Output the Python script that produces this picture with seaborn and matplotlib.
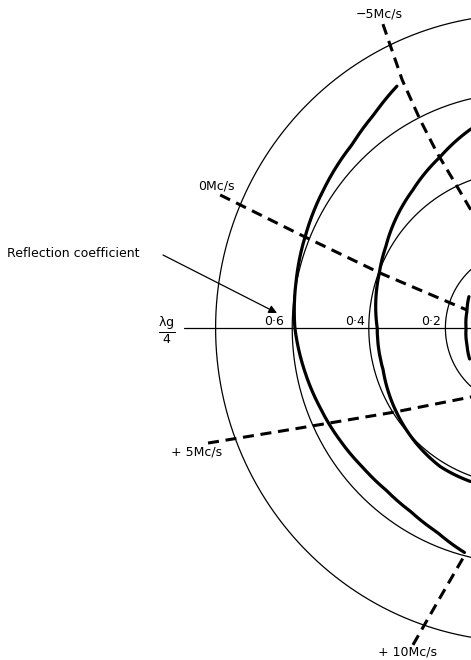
import numpy as np
import matplotlib
matplotlib.use("Agg")
import matplotlib.pyplot as plt
import seaborn as sns

# reflection coefficient rings
ring_radii = [0.2, 0.4, 0.6, 0.8]
ring_labels = ["0·2", "0·4", "0·6"]

# measured loci (|reflection coefficient|, phase in degrees)
outer_r = [0.698, 0.668, 0.645, 0.627, 0.613, 0.602, 0.593, 0.578, 0.565,
           0.555, 0.547, 0.545, 0.551, 0.566, 0.592]
outer_deg = [117.9, 125.3, 133.4, 145.6, 157.0, 168.3, 180.0, 191.0, 201.0,
             211.0, 220.5, 229.5, 238.1, 246.9, 255.3]

mid_r = [0.525, 0.486, 0.453, 0.412, 0.398, 0.378, 0.378, 0.391, 0.404, 0.413, 0.414]
mid_deg = [104.7, 116.1, 129.0, 149.6, 159.4, 180.0, 196.4, 212.2, 227.4, 238.9, 251.0]

inner_r = [0.160, 0.150, 0.146, 0.150, 0.158]
inner_deg = [150.0, 163.0, 180.0, 197.0, 210.0]

# constant-frequency lines
freq_labels = ["\u22125Mc/s", "0Mc/s", "+ 5Mc/s", "+ 10Mc/s"]
freq_r = [
    [0.856, 0.706, 0.594, 0.4985, 0.409, 0.329, 0.17],
    [0.858, 0.624, 0.3964, 0.151],
    [0.8707, 0.6333, 0.3948, 0.2207, 0.19],
    [0.857, 0.7213, 0.5923],
]
freq_deg = [
    [115.1, 116.3, 116.6, 116.4, 115.3, 113.9, 110.0],
    [156.7, 157.65, 159.27, 162.3],
    [199.7, 203.75, 212.87, 232.9, 243.0],
    [250.6, 252.7, 255.7],
]

sns.set_theme(style="white")
plt.rcParams["font.family"] = ["DejaVu Sans"]
plt.rcParams["text.color"] = "black"

W, H = 471, 660
fig = plt.figure(figsize=(W / 100, H / 100), dpi=100)
fig.patch.set_facecolor("white")

# polar axes centred off the right edge of the figure
cx, cy = 522, 332          # centre in pixels from left / bottom
sx, sy = 383, 392          # pixels per unit of reflection coefficient
rmax = 1.45
ax = fig.add_axes([(cx - rmax * sx) / W, (cy - rmax * sy) / H,
                   2 * rmax * sx / W, 2 * rmax * sy / H], projection="polar")
ax.set_aspect("auto")
ax.set_rlim(0, rmax)
ax.grid(False)
ax.set_xticks([])
ax.set_yticks([])
ax.spines["polar"].set_visible(False)
ax.patch.set_alpha(0)

theta = np.linspace(0, 2 * np.pi, 721)
for rr in ring_radii:
    ax.plot(theta, np.full_like(theta, rr), color="black", lw=0.9)

# lambda_g/4 axis
ax.plot([np.pi, np.pi], [0.8825, 0.0], color="black", lw=0.9)

# loci: let the polar transform curve the segments
for rr, dd in [(outer_r, outer_deg), (mid_r, mid_deg), (inner_r, inner_deg)]:
    sns.lineplot(x=np.deg2rad(dd), y=rr, ax=ax, sort=False, estimator=None,
                 color="black", lw=2.3)
    ax.lines[-1].get_path()._interpolation_steps = 40
    ax.lines[-1].set_solid_capstyle("round")

for rr, dd in zip(freq_r, freq_deg):
    sns.lineplot(x=np.deg2rad(dd), y=rr, ax=ax, sort=False, estimator=None,
                 color="black", lw=2.2, dashes=False, linestyle=(0, (3.6, 2.2)))
ax.set_xlabel("")
ax.set_ylabel("")

# text
def px(x, y):
    return x / W, 1 - y / H

lab_pos = [(379, 14), (216, 186), (197, 452), (407, 652)]
for lab, (x, y) in zip(freq_labels, lab_pos):
    fig.text(*px(x, y), lab, ha="center", va="center", fontsize=9)

for lab, (x, y) in zip(ring_labels, [(431, 322), (355, 322), (274, 322)]):
    fig.text(*px(x, y), lab, ha="center", va="center", fontsize=9)

fig.text(*px(7, 254), "Reflection coefficient", ha="left", va="center", fontsize=9)
ax.annotate("", xy=px(277, 313), xytext=px(163, 255),
            xycoords="figure fraction", textcoords="figure fraction",
            arrowprops=dict(arrowstyle="-|>", color="black", lw=0.9,
                            mutation_scale=12, shrinkA=0, shrinkB=0))

fig.text(*px(167, 330), r"$\frac{\mathrm{\lambda g}}{\mathrm{4}}$",
         ha="center", va="center", fontsize=13)

fig.savefig("out.png", dpi=100, facecolor="white")
